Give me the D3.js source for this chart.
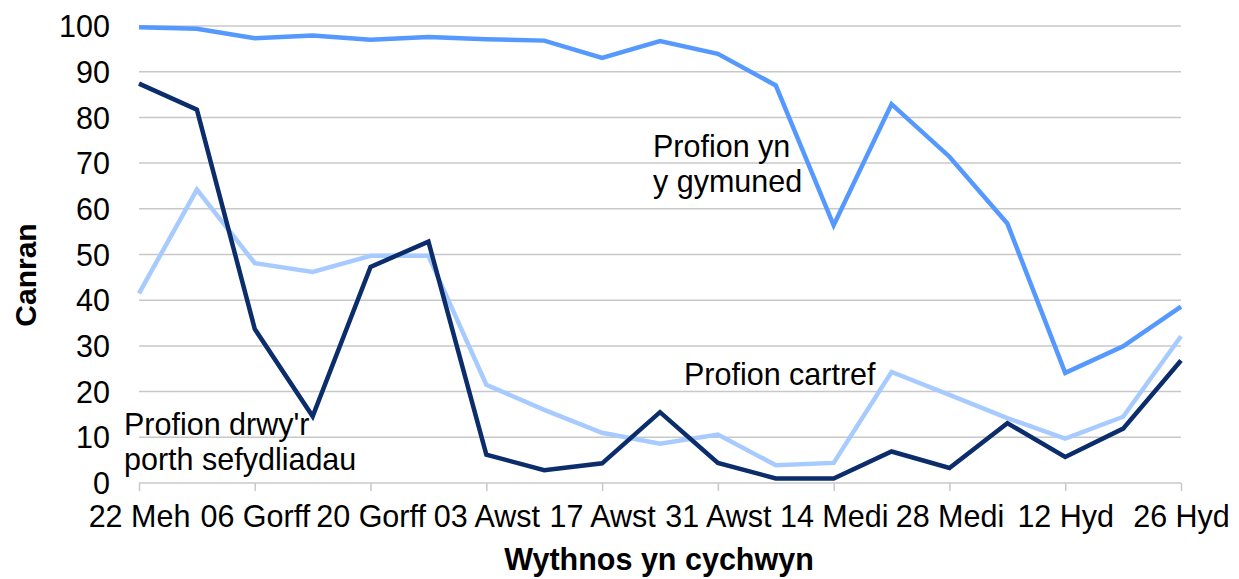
<!DOCTYPE html>
<html>
<head>
<meta charset="utf-8">
<script src="https://cdn.jsdelivr.net/npm/d3@7"></script>
<style>
  html, body { margin: 0; padding: 0; background: #fff; }
  svg { display: block; font-family: "Liberation Sans", Arial, sans-serif; }
</style>
</head>
<body>
<svg id="chart" width="1239" height="579"></svg>
<script>
const weeks = ["22 Meh","29 Meh","06 Gorff","13 Gorff","20 Gorff","27 Gorff","03 Awst","10 Awst","17 Awst","24 Awst","31 Awst","07 Medi","14 Medi","21 Medi","28 Medi","05 Hyd","12 Hyd","19 Hyd","26 Hyd"];
const tickLabels = ["22 Meh","06 Gorff","20 Gorff","03 Awst","17 Awst","31 Awst","14 Medi","28 Medi","12 Hyd","26 Hyd"];
const yTicks = [0,10,20,30,40,50,60,70,80,90,100];

const community = [99.7,99.4,97.3,97.9,97.0,97.6,97.1,96.8,93.0,96.7,93.9,87.0,56.4,82.9,71.4,56.8,24.1,29.9,38.6];
const portal    = [87.4,81.7,33.7,14.6,47.3,52.8,6.2,2.8,4.3,15.5,4.4,1.0,1.0,6.9,3.3,13.1,5.7,11.9,26.8];
const home      = [41.5,64.2,48.1,46.2,49.7,49.7,21.5,16.0,11.0,8.6,10.6,3.9,4.4,24.3,19.3,14.2,9.7,14.5,32.1];

const seriesNames = ["Profion yn y gymuned","Profion drwy'r porth sefydliadau","Profion cartref"];

const svg = d3.select("#chart");
const margin = {left: 139, right: 58, top: 26, bottom: 96};
const W = 1239, H = 579;
const FS = 30.5;

const x = d3.scalePoint().domain(weeks).range([margin.left, W - margin.right]);
const y = d3.scaleLinear().domain([0, 100]).range([H - margin.bottom, margin.top]);

// gridlines
svg.append("g")
  .selectAll("line")
  .data(yTicks.filter(d => d > 0))
  .join("line")
  .attr("x1", margin.left).attr("x2", W - margin.right)
  .attr("y1", d => y(d)).attr("y2", d => y(d))
  .attr("stroke", "#c8c8c8").attr("stroke-width", 1.5);

// y axis labels
const yAxis = svg.append("g")
  .attr("transform", `translate(${margin.left},0)`)
  .call(d3.axisLeft(y).tickValues(yTicks).tickSize(0).tickPadding(29).tickFormat(d3.format("d")));
yAxis.select(".domain").remove();
yAxis.selectAll("text").attr("font-size", FS).attr("fill", "#000").attr("font-family", "Liberation Sans, Arial, sans-serif").attr("dy", "0.35em");

// x axis
const xAxis = svg.append("g")
  .attr("transform", `translate(0,${y(0)})`)
  .call(d3.axisBottom(x).tickValues(tickLabels).tickSize(8).tickPadding(14));
xAxis.select(".domain").attr("stroke", "#c8c8c8").attr("stroke-width", 1.5).attr("d", `M${margin.left},0H${W - margin.right}`);
xAxis.selectAll(".tick line").attr("stroke", "#c8c8c8").attr("stroke-width", 1.5);
xAxis.selectAll("text").attr("font-size", FS).attr("fill", "#000").attr("font-family", "Liberation Sans, Arial, sans-serif");

// lines
const line = d3.line().x((d, i) => x(weeks[i])).y(d => y(d));
const seriesData = [
  {name: seriesNames[2], values: home, color: "#a8cbff"},
  {name: seriesNames[1], values: portal, color: "#0b2d6b"},
  {name: seriesNames[0], values: community, color: "#5599ff"}
];
svg.append("g").selectAll("path")
  .data(seriesData)
  .join("path")
  .attr("d", d => line(d.values))
  .attr("fill", "none")
  .attr("stroke", d => d.color)
  .attr("stroke-width", 4.5)
  .attr("stroke-linejoin", "miter");

// series labels
const labels = [
  {lines: ["Profion yn", "y gymuned"], x: 653, y: 157},
  {lines: ["Profion cartref"], x: 684, y: 385},
  {lines: ["Profion drwy'r", "porth sefydliadau"], x: 124, y: 435}
];
labels.forEach(l => {
  const t = svg.append("text").attr("x", l.x).attr("y", l.y).attr("font-size", FS).attr("fill", "#000");
  l.lines.forEach((s, i) => t.append("tspan").attr("x", l.x).attr("dy", i === 0 ? 0 : 35).text(s));
});

// axis titles
svg.append("text")
  .attr("transform", `translate(36,275) rotate(-90)`)
  .attr("text-anchor", "middle")
  .attr("font-size", 30).attr("font-weight", "bold").attr("fill", "#000")
  .text("Canran");
svg.append("text")
  .attr("x", 659).attr("y", 570)
  .attr("text-anchor", "middle")
  .attr("font-size", 30.5).attr("font-weight", "bold").attr("fill", "#000")
  .text("Wythnos yn cychwyn");
</script>
</body>
</html>
